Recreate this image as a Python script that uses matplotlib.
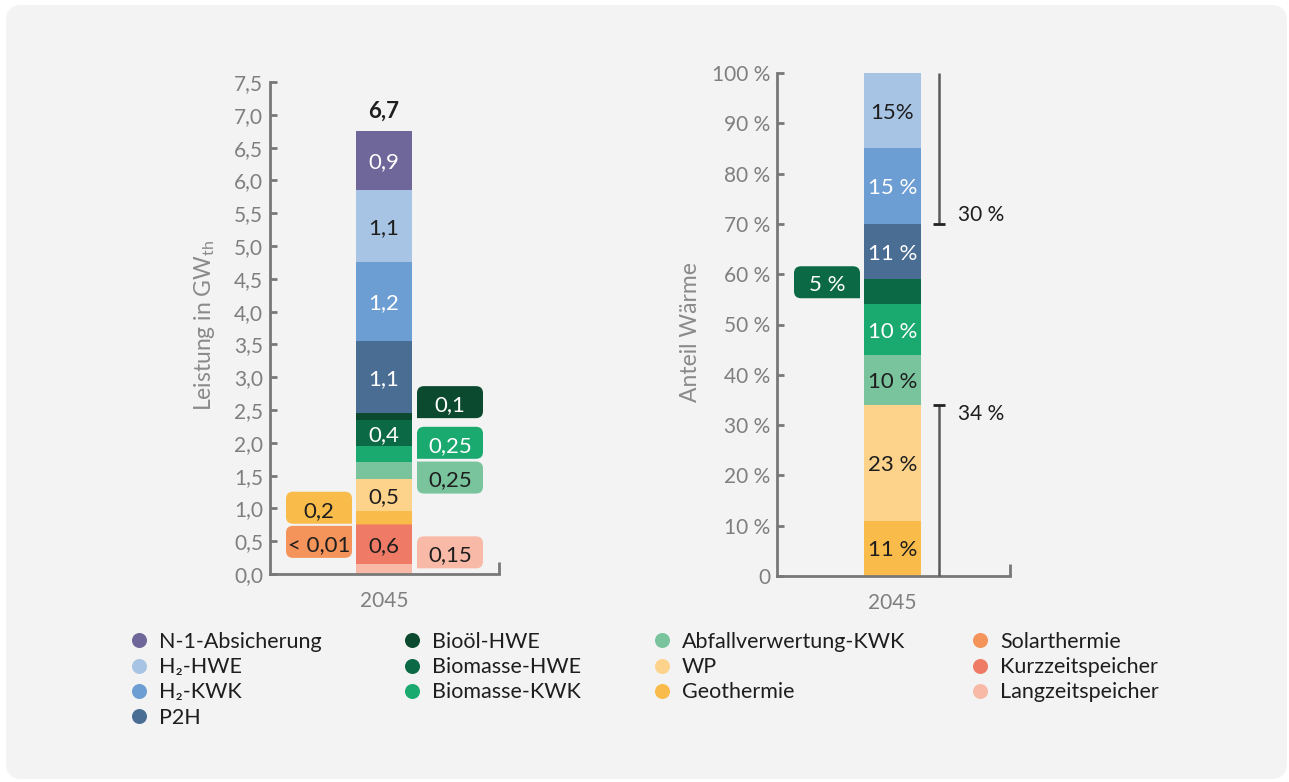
import matplotlib
matplotlib.use("Agg")
import matplotlib.pyplot as plt
import matplotlib.transforms as mtrans
from matplotlib.patches import FancyBboxPatch, PathPatch
from matplotlib.path import Path
from matplotlib.lines import Line2D

FONT = "Lato"
plt.rcParams["font.family"] = [FONT, "DejaVu Sans"]
plt.rcParams["mathtext.fontset"] = "custom"
plt.rcParams["mathtext.rm"] = FONT
plt.rcParams["mathtext.it"] = FONT + ":italic"
plt.rcParams["mathtext.bf"] = FONT + ":bold"

# ---------------- data ----------------
year_label = "2045"

# left chart: installed capacity (GW_th), stacked bottom -> top
cap_categories = ["Langzeitspeicher", "Kurzzeitspeicher", "Solarthermie", "Geothermie", "WP",
                  "Abfallverwertung-KWK", "Biomasse-KWK", "Biomasse-HWE", "Bioöl-HWE", "P2H",
                  "H2-KWK", "H2-HWE", "N-1-Absicherung"]
cap_values = [0.15, 0.6, 0.005, 0.2, 0.5, 0.25, 0.25, 0.4, 0.1, 1.1, 1.2, 1.1, 0.9]
cap_labels = ["0,15", "0,6", "< 0,01", "0,2", "0,5", "0,25", "0,25", "0,4", "0,1", "1,1", "1,2", "1,1", "0,9"]
cap_total_label = "6,7"
cap_yticks = [0.0, 0.5, 1.0, 1.5, 2.0, 2.5, 3.0, 3.5, 4.0, 4.5, 5.0, 5.5, 6.0, 6.5, 7.0, 7.5]
cap_yticklabels = ["0,0", "0,5", "1,0", "1,5", "2,0", "2,5", "3,0", "3,5", "4,0", "4,5",
                   "5,0", "5,5", "6,0", "6,5", "7,0", "7,5"]

# right chart: share of heat (%), stacked bottom -> top
share_categories = ["Geothermie", "WP", "Abfallverwertung-KWK", "Biomasse-KWK", "Biomasse-HWE",
                    "P2H", "H2-KWK", "H2-HWE"]
share_values = [11, 23, 10, 10, 5, 11, 15, 15]
share_labels = ["11 %", "23 %", "10 %", "10 %", "5 %", "11 %", "15 %", "15%"]
share_yticks = [0, 10, 20, 30, 40, 50, 60, 70, 80, 90, 100]
share_yticklabels = ["0", "10 %", "20 %", "30 %", "40 %", "50 %", "60 %", "70 %", "80 %", "90 %", "100 %"]
bracket_groups = [["H2-KWK", "H2-HWE"], ["Geothermie", "WP"]]

# legend
legend_columns = [
    ["N-1-Absicherung", "H2-HWE", "H2-KWK", "P2H"],
    ["Bioöl-HWE", "Biomasse-HWE", "Biomasse-KWK"],
    ["Abfallverwertung-KWK", "WP", "Geothermie"],
    ["Solarthermie", "Kurzzeitspeicher", "Langzeitspeicher"],
]
display_names = {"H2-HWE": "H\u2082-HWE", "H2-KWK": "H\u2082-KWK"}

# ---------------- styles ----------------
colors = {
    "N-1-Absicherung": "#6f6699",
    "H2-HWE": "#a8c4e4",
    "H2-KWK": "#6c9dd3",
    "P2H": "#4a6d94",
    "Bioöl-HWE": "#0b4a2f",
    "Biomasse-HWE": "#0b6a45",
    "Biomasse-KWK": "#1aa96f",
    "Abfallverwertung-KWK": "#79c49d",
    "WP": "#fdd38b",
    "Geothermie": "#f9bb4a",
    "Solarthermie": "#f4935a",
    "Kurzzeitspeicher": "#ef7b66",
    "Langzeitspeicher": "#f8b9a7",
}
light_text = {"H2-HWE", "WP", "Geothermie", "Abfallverwertung-KWK", "Kurzzeitspeicher",
              "Langzeitspeicher", "Solarthermie"}
DARK = "#1e1e1e"
GREY = "#7f7f7f"
SPINE = "#787878"
BG = "#f2f3f2"

# callouts: category -> (side, y-center in data units, square corner)
cap_callouts = {
    "Bioöl-HWE": ("right", 2.62, "bl"),
    "Biomasse-KWK": ("right", 2.00, "bl"),
    "Abfallverwertung-KWK": ("right", 1.47, "tl"),
    "Langzeitspeicher": ("right", 0.33, "bl"),
    "Geothermie": ("left", 1.01, "br"),
    "Solarthermie": ("left", 0.49, "tr"),
}
share_callouts = {"Biomasse-HWE": ("left", 58.4, "br")}

W, H, DPI = 1289, 782, 100
fig = plt.figure(figsize=(W / DPI, H / DPI), dpi=DPI, facecolor="white")

# background panel
px2fig = mtrans.Affine2D().scale(1 / W, -1 / H).translate(0, 1) + fig.transFigure
panel = FancyBboxPatch((6, 5), 1281, 774, boxstyle="round,pad=0,rounding_size=16",
                       transform=px2fig, facecolor=BG, edgecolor="none", zorder=-10)
fig.patches.append(panel)

LBL = 16
TICK = 15
YLAB = 16.5


def box_path(x0, y0, w, h, r, square):
    x1, y1 = x0 + w, y0 + h
    rb = {"bl": r, "br": r, "tl": r, "tr": r}
    if square:
        rb[square] = 0
    verts = [(x0 + rb["bl"], y0), (x1 - rb["br"], y0), (x1, y0), (x1, y0 + rb["br"]),
             (x1, y1 - rb["tr"]), (x1, y1), (x1 - rb["tr"], y1),
             (x0 + rb["tl"], y1), (x0, y1), (x0, y1 - rb["tl"]),
             (x0, y0 + rb["bl"]), (x0, y0), (x0 + rb["bl"], y0), (x0 + rb["bl"], y0)]
    codes = [Path.MOVETO, Path.LINETO, Path.CURVE3, Path.CURVE3,
             Path.LINETO, Path.CURVE3, Path.CURVE3,
             Path.LINETO, Path.CURVE3, Path.CURVE3,
             Path.LINETO, Path.CURVE3, Path.CURVE3, Path.CLOSEPOLY]
    return Path(verts, codes)


def callout(ax, cat, text, side, yc, square, gap=5, bw=66, bh=32):
    xe = 0.5 if side == "right" else -0.5
    x0 = gap if side == "right" else -gap - bw
    trans = (mtrans.Affine2D().scale(1 / DPI) + fig.dpi_scale_trans
             + mtrans.ScaledTranslation(xe, yc, ax.transData))
    p = PathPatch(box_path(x0, -bh / 2, bw, bh, 7, square), transform=trans,
                  facecolor=colors[cat], edgecolor="none", clip_on=False, zorder=3)
    ax.add_patch(p)
    tc = DARK if cat in light_text else "white"
    ax.annotate(text, xy=(xe, yc), xytext=((x0 + bw / 2) * 0.72, -1 * 0.72),
                textcoords="offset points", ha="center", va="center_baseline",
                fontsize=LBL, color=tc, zorder=4, annotation_clip=False)


def style_axes(ax, ymax):
    for s in ["top", "right"]:
        ax.spines[s].set_visible(False)
    for s in ["left", "bottom"]:
        ax.spines[s].set_color(SPINE)
        ax.spines[s].set_linewidth(2)
    ax.set_facecolor("none")
    ax.tick_params(axis="y", direction="in", length=5, width=2, color=SPINE,
                   labelsize=TICK, labelcolor=GREY, pad=5)
    ax.tick_params(axis="x", length=0, labelsize=TICK, labelcolor=GREY, pad=12)
    ax.set_xticks([0])
    ax.set_xticklabels([year_label])
    ax.axvline(ax.get_xlim()[1], 0, 12 / ymax, color=SPINE, lw=2, clip_on=False,
               solid_capstyle="butt")


# ---------------- left chart ----------------
ax1 = fig.add_axes([270 / W, (H - 574) / H, 229 / W, 492 / H])
ax1.set_xlim(-114 / 56, 115 / 56)
ax1.set_ylim(0, 7.5)
bottom = 0.0
for cat, v, lab in zip(cap_categories, cap_values, cap_labels):
    ax1.bar(0, v, bottom=bottom, width=1, color=colors[cat], linewidth=0, zorder=2)
    if cat in cap_callouts:
        side, yc, sq = cap_callouts[cat]
        callout(ax1, cat, lab, side, yc, sq, gap=5 if side == "right" else 4)
    else:
        ax1.text(0, bottom + v / 2, lab, ha="center", va="center_baseline", fontsize=LBL,
                 color=DARK if cat in light_text else "white", zorder=4)
    bottom += v
ax1.annotate(cap_total_label, xy=(0, bottom), xytext=(0, 14), textcoords="offset points",
             ha="center", va="center", fontsize=LBL, fontweight="bold", color=DARK)
ax1.set_yticks(cap_yticks)
ax1.set_yticklabels(cap_yticklabels)
style_axes(ax1, 492)
ax1.text(-0.284, 0.506, r"Leistung in GW$_\mathrm{th}$", transform=ax1.transAxes,
         rotation=90, ha="center", va="center", fontsize=YLAB, color="#8a8a8a")

# ---------------- right chart ----------------
ax2 = fig.add_axes([777 / W, (H - 576) / H, 233 / W, 503 / H])
ax2.set_xlim(-(892.5 - 777) / 57, (1010 - 892.5) / 57)
ax2.set_ylim(0, 100)
bottom = 0
bounds = {}
for cat, v, lab in zip(share_categories, share_values, share_labels):
    ax2.bar(0, v, bottom=bottom, width=1, color=colors[cat], linewidth=0, zorder=2)
    bounds[cat] = (bottom, bottom + v)
    if cat in share_callouts:
        side, yc, sq = share_callouts[cat]
        callout(ax2, cat, lab, side, yc, sq, gap=4)
    else:
        ax2.text(0, bottom + v / 2, lab, ha="center", va="center_baseline", fontsize=LBL,
                 color=DARK if cat in light_text else "white", zorder=4)
    bottom += v
ax2.set_yticks(share_yticks)
ax2.set_yticklabels(share_yticklabels)
style_axes(ax2, 503)
ax2.text(-0.373, 0.485, "Anteil Wärme", transform=ax2.transAxes,
         rotation=90, ha="center", va="center", fontsize=YLAB, color="#8a8a8a")

# brackets
btrans = ax2.transData + mtrans.ScaledTranslation(18 / DPI, 0, fig.dpi_scale_trans)
for gi, group in enumerate(bracket_groups):
    lo = min(bounds[c][0] for c in group)
    hi = max(bounds[c][1] for c in group)
    total = sum(share_values[share_categories.index(c)] for c in group)
    ax2.plot([0.5, 0.5], [lo, hi], color="#5a5a5a", lw=1.8, transform=btrans,
             clip_on=False, solid_capstyle="butt", zorder=3)
    cap_y = lo if gi == 0 else hi
    ax2.plot([0.5], [cap_y], marker="_", markersize=8, mew=2, color="#222222",
             transform=btrans, clip_on=False, zorder=3)
    dy = 9 if gi == 0 else -9
    ax2.annotate(f"{total} %", xy=(0.5, cap_y), xycoords=btrans, xytext=(19 * 0.72, dy * 0.72),
                 textcoords="offset points", ha="left", va="center", fontsize=15, color=DARK)

# ---------------- legend ----------------
col_x = [139, 411.5, 661.5, 979.6]
LEG_FS = 15.5
fs_px = LEG_FS * DPI / 72
for names, cx in zip(legend_columns, col_x):
    handles = [Line2D([], [], marker="o", linestyle="None", markersize=10.8,
                      markerfacecolor=colors[n], markeredgecolor="none") for n in names]
    labels = [display_names.get(n, n) for n in names]
    left_px = cx - fs_px / 2
    fig.legend(handles, labels, loc="upper left",
               bbox_to_anchor=(left_px / W, (H - 632) / H), bbox_transform=fig.transFigure,
               frameon=False, fontsize=LEG_FS, handlelength=1.0, handletextpad=0.45,
               labelspacing=0.24, borderpad=0, borderaxespad=0, labelcolor=DARK)

fig.savefig("out.png", dpi=DPI, facecolor="white")
